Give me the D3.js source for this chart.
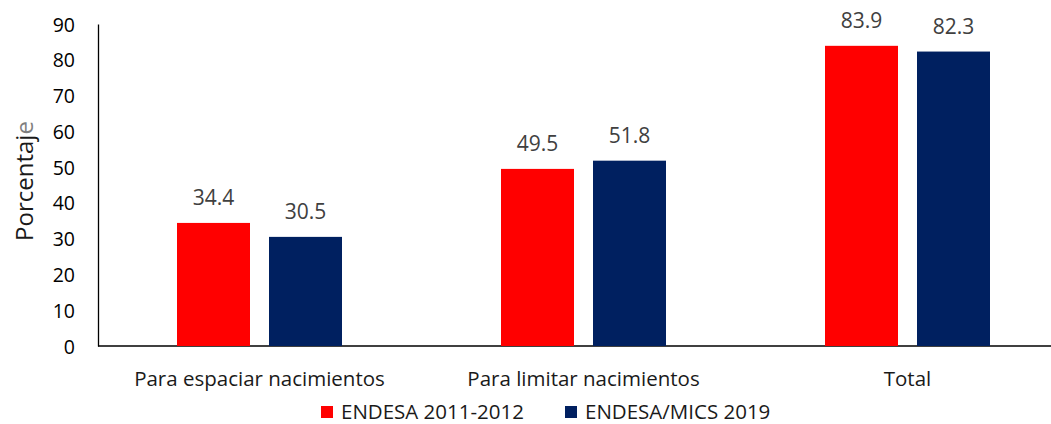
<!DOCTYPE html>
<html>
<head>
<meta charset="utf-8">
<script src="https://cdn.jsdelivr.net/npm/d3@7"></script>
<style>
  body { margin: 0; background: #fff; }
  text { font-family: "Open Sans", sans-serif; }
</style>
</head>
<body>
<svg id="chart"></svg>
<script>
const WIDTH = 1051;
const HEIGHT = 424;

const categories = ["Para espaciar nacimientos", "Para limitar nacimientos", "Total"];
const seriesNames = ["ENDESA 2011-2012", "ENDESA/MICS 2019"];
const endesa2012 = [34.4, 49.5, 83.9];
const endesaMics2019 = [30.5, 51.8, 82.3];
const yTicks = [0, 10, 20, 30, 40, 50, 60, 70, 80, 90];
const colors = ["#ff0000", "#002060"];

const seriesValues = [endesa2012, endesaMics2019];
const rows = categories.map((c, i) => ({
  category: c,
  values: seriesNames.map((s, j) => ({ series: s, value: seriesValues[j][i], idx: j })),
}));

const svg = d3.select("#chart").attr("width", WIDTH).attr("height", HEIGHT);

const margin = { left: 98, top: 24, bottom: 78 };
const yScale = d3.scaleLinear().domain([0, 90]).range([HEIGHT - margin.bottom, margin.top]);

/* outer band per category, inner band per series */
const xScale = d3.scaleBand().domain(categories).range([97.5, 1069.5]);
const xInner = d3.scaleBand().domain(seriesNames).range([79.5, 244.5]).paddingInner(0.2065);

// y axis
const yAxis = svg.append("g")
  .attr("transform", `translate(${margin.left},0)`)
  .call(d3.axisLeft(yScale).tickValues(yTicks).tickSize(0).tickPadding(23));
yAxis.select(".domain").attr("stroke", "#000").attr("stroke-width", 1.3);
yAxis.selectAll(".tick text")
  .attr("font-family", "Open Sans")
  .attr("font-size", 19.5)
  .attr("fill", "#000")
  .attr("dy", "0.36em");

// x axis line
svg.append("line")
  .attr("x1", margin.left).attr("x2", WIDTH)
  .attr("y1", yScale(0)).attr("y2", yScale(0))
  .attr("stroke", "#000").attr("stroke-width", 1.3);

// bars
const groups = svg.append("g").selectAll("g")
  .data(rows)
  .enter()
  .append("g")
  .attr("transform", (d) => `translate(${xScale(d.category)},0)`);

groups.selectAll("rect")
  .data((d) => d.values)
  .enter()
  .append("rect")
  .attr("x", (d) => xInner(d.series))
  .attr("width", xInner.bandwidth())
  .attr("y", (d) => yScale(d.value))
  .attr("height", (d) => yScale(0) - yScale(d.value))
  .attr("fill", (d) => colors[d.idx]);

groups.selectAll("text.val")
  .data((d) => d.values)
  .enter()
  .append("text")
  .attr("class", "val")
  .attr("x", (d) => xInner(d.series) + xInner.bandwidth() / 2)
  .attr("y", (d) => yScale(d.value) - 18)
  .attr("text-anchor", "middle")
  .attr("font-size", 21)
  .attr("fill", "#404040")
  .text((d) => d.value.toFixed(1));

// category labels
svg.append("g").selectAll("text")
  .data(categories)
  .enter()
  .append("text")
  .attr("x", (d) => xScale(d) + (xInner.range()[0] + xInner.range()[1]) / 2)
  .attr("y", 386)
  .attr("text-anchor", "middle")
  .attr("font-size", 20.5)
  .attr("fill", "#1a1a1a")
  .text((d) => d);

// y axis title
const yTitle = svg.append("text")
  .attr("transform", "translate(33,181) rotate(-90)")
  .attr("text-anchor", "middle")
  .attr("font-size", 24)
  .attr("fill", "#1a1a1a");
yTitle.append("tspan").text("Porcentaj");
yTitle.append("tspan").attr("fill", "#7f7f7f").text("e");

// legend
const legendX = [321, 565];
const legend = svg.append("g").selectAll("g")
  .data(seriesNames)
  .enter()
  .append("g")
  .attr("transform", (d, i) => `translate(${legendX[i]},406)`);
legend.append("rect")
  .attr("width", 12).attr("height", 12)
  .attr("fill", (d, i) => colors[i]);
legend.append("text")
  .attr("x", 20).attr("y", 13)
  .attr("font-size", 20.5)
  .attr("fill", "#1a1a1a")
  .text((d) => d);
</script>
</body>
</html>
